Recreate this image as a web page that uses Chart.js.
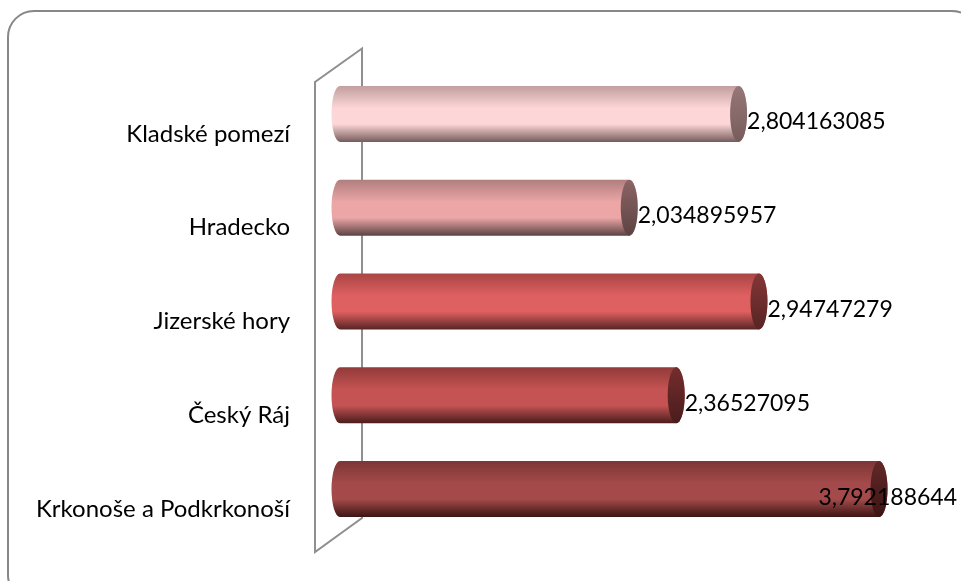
<!DOCTYPE html>
<html>
<head>
<meta charset="utf-8">
<script src="https://cdn.jsdelivr.net/npm/chart.js@4.4.0/dist/chart.umd.min.js"></script>
<style>
  html, body { margin: 0; background: #fff; }
  canvas { display: block; }
</style>
</head>
<body>
<canvas id="chart" width="961" height="581"></canvas>
<script>
const regions = ['Kladské pomezí', 'Hradecko', 'Jizerské hory', 'Český Ráj', 'Krkonoše a Podkrkonoší'];
const values = [2.804163085, 2.034895957, 2.94747279, 2.36527095, 3.792188644];
const axisMax = 4.2;

// cylinder shades per bar: [edge top, highlight, edge bottom, cap]
const shades = [
  ['#c29e9e', '#fdd7d7', '#775c5c', '#977777'],
  ['#b07e7e', '#eca6a6', '#5c4343', '#8c6464'],
  ['#aa4545', '#df6060', '#572424', '#843636'],
  ['#923a3a', '#c55353', '#4a1c1c', '#742d2d'],
  ['#7e3535', '#a44a4a', '#3c1414', '#632828']
];

// Czech decimal comma
const fmt = v => String(v).replace('.', ',');

const cylinders = {
  id: 'cylinders',
  beforeDraw(chart) {
    const { ctx } = chart;
    // outer rounded frame (runs off the right and bottom edges)
    ctx.save();
    ctx.strokeStyle = '#878787';
    ctx.lineWidth = 2;
    ctx.beginPath();
    ctx.roundRect(8, 11, 970, 590, 26);
    ctx.stroke();
    ctx.restore();
  },
  beforeDatasetsDraw(chart) {
    const { ctx, chartArea: a } = chart;
    // back wall seen in perspective
    const l = a.left - 25, r = a.left + 22;
    ctx.save();
    ctx.strokeStyle = '#8f8f8f';
    ctx.lineWidth = 2;
    ctx.beginPath();
    ctx.moveTo(r, a.top - 18.5);
    ctx.lineTo(l, a.top + 15);
    ctx.lineTo(l, a.bottom + 16);
    ctx.lineTo(r, a.bottom - 18);
    ctx.closePath();
    ctx.stroke();
    ctx.restore();
  },
  afterDatasetsDraw(chart) {
    const { ctx } = chart;
    const meta = chart.getDatasetMeta(0);
    meta.data.forEach((bar, i) => {
      const { x, y, base, height } = bar.getProps(['x', 'y', 'base', 'height'], true);
      const top = y - height / 2, bot = y + height / 2;
      const rx = 8.5, ry = height / 2;
      const s = shades[i];

      const g = ctx.createLinearGradient(0, top, 0, bot);
      g.addColorStop(0, s[0]);
      g.addColorStop(0.4, s[1]);
      g.addColorStop(0.68, s[1]);
      g.addColorStop(1, s[2]);

      ctx.save();
      ctx.beginPath();
      ctx.ellipse(base, y, rx, ry, 0, Math.PI / 2, Math.PI * 1.5);
      ctx.lineTo(x, top);
      ctx.ellipse(x, y, rx, ry, 0, -Math.PI / 2, Math.PI / 2);
      ctx.closePath();
      ctx.fillStyle = g;
      ctx.fill();

      // end cap
      const cg = ctx.createLinearGradient(0, top, 0, bot);
      cg.addColorStop(0, s[3]);
      cg.addColorStop(1, s[2]);
      ctx.beginPath();
      ctx.ellipse(x, y, rx, ry, 0, 0, Math.PI * 2);
      ctx.fillStyle = cg;
      ctx.fill();

      // value label, pulled back inside the frame when it would overflow
      const txt = fmt(values[i]);
      ctx.font = '23px Lato';
      ctx.fillStyle = '#000';
      ctx.textBaseline = 'middle';
      const w = ctx.measureText(txt).width;
      let tx = x + rx;
      if (tx + w > 957) tx = 957 - w;
      ctx.fillText(txt, tx, y + 8);
      ctx.restore();
    });
  }
};

new Chart(document.getElementById('chart'), {
  type: 'bar',
  data: {
    labels: regions,
    datasets: [{
      data: values,
      backgroundColor: 'rgba(0,0,0,0)',
      borderWidth: 0,
      barThickness: 56
    }]
  },
  options: {
    indexAxis: 'y',
    responsive: false,
    animation: false,
    layout: { padding: { top: 67, bottom: 45, left: 0, right: 24 } },
    plugins: {
      legend: { display: false },
      tooltip: { enabled: false }
    },
    scales: {
      x: { display: false, min: 0, max: axisMax },
      y: {
        afterFit(scale) {
          scale.width = 340;
          scale.paddingTop = 0;
          scale.paddingBottom = 0;
        },
        border: { display: false },
        grid: { display: false, drawTicks: false },
        ticks: {
          font: { family: 'Lato', size: 24 },
          color: '#000',
          padding: 50,
          labelOffset: 20
        }
      }
    }
  },
  plugins: [cylinders]
});
</script>
</body>
</html>
